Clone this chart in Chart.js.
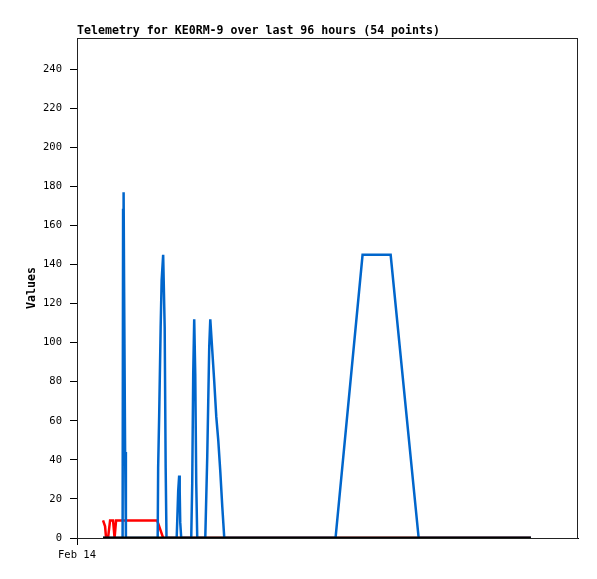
<!DOCTYPE html>
<html>
<head>
<meta charset="utf-8">
<script src="https://cdn.jsdelivr.net/npm/chart.js@4/dist/chart.umd.min.js"></script>
<style>
  body { margin: 0; background: #fff; }
  canvas { display: block; }
</style>
</head>
<body>
<canvas id="myChart" width="597" height="579"></canvas>
<script>
// hours since start of the 96h window, and values
const blueHours = [5.0, 8.74, 8.83, 8.93, 9.02, 9.22, 9.37, 15.46, 15.55, 15.74, 16.03, 16.22, 16.51, 16.80, 16.99, 17.15,
    19.10, 19.20, 19.39, 19.58, 19.68, 19.78, 19.97, 21.89, 22.08, 22.27, 22.46, 22.66, 22.85, 23.04,
    24.58, 24.96, 25.15, 25.34, 25.54, 25.92, 26.30, 26.69, 27.07, 27.46, 27.84, 28.22, 49.54, 54.72, 60.10, 65.47, 86.98];
const blueValues = [0, 0, 168, 177, 132, 44, 0, 0, 36, 62, 108, 132, 145, 108, 36, 0,
    0, 8, 24, 32, 24, 8, 0, 0, 28, 84, 112, 84, 28, 0,
    0, 42, 70, 98, 112, 96, 80, 62, 50, 34, 16, 0, 0, 145, 145, 0, 0];
const redHours = [4.99, 5.38, 5.57, 5.95, 6.34, 6.91, 7.20, 7.49, 15.36, 16.51, 86.98];
const redValues = [9, 6, 0, 0, 9, 9, 0, 9, 9, 0, 0];
const blackHours = [4.99, 86.98];
const blackValues = [0, 0];
const xTickLabels = ['Feb 14'];
const chartTitle = 'Telemetry for KE0RM-9 over last 96 hours (54 points)';

function toPoints(hours, values) {
    return hours.map((h, i) => ({ x: h, y: values[i] }));
}

const frame = {
    id: 'frame',
    afterDraw(chart) {
        const a = chart.chartArea;
        const ctx = chart.ctx;
        ctx.save();
        ctx.strokeStyle = '#222';
        ctx.lineWidth = 1;
        ctx.strokeRect(Math.round(a.left) + 0.5, Math.round(a.top) + 0.5, Math.round(a.right - a.left) - 1, Math.round(a.bottom - a.top));
        ctx.restore();
    }
};

const ctx = document.getElementById('myChart');
new Chart(ctx, {
    type: 'line',
    data: {
        datasets: [
            { label: 'black', data: toPoints(blackHours, blackValues), borderColor: '#000', borderWidth: 3 },
            { label: 'blue', data: toPoints(blueHours, blueValues), borderColor: '#0066cc', borderWidth: 2.5 },
            { label: 'red', data: toPoints(redHours, redValues), borderColor: '#ff0000', borderWidth: 2.5 }
        ]
    },
    options: {
        responsive: false,
        animation: false,
        layout: { padding: { left: 0, right: 19, top: 0, bottom: 0 } },
        elements: { point: { radius: 0 }, line: { tension: 0 } },
        plugins: {
            legend: { display: false },
            tooltip: { enabled: false },
            title: {
                display: true,
                text: chartTitle,
                align: 'start',
                fullSize: false,
                color: '#000',
                font: { family: 'DejaVu Sans Mono', size: 11.6, weight: 'bold', lineHeight: '14px' },
                padding: { top: 24, bottom: 0 }
            }
        },
        scales: {
            x: {
                type: 'linear',
                min: 0,
                max: 96,
                afterBuildTicks: (scale) => { scale.ticks = [{ value: 0 }]; },
                afterFit: (scale) => { scale.height = 41; },
                ticks: {
                    color: '#000',
                    padding: 4,
                    maxRotation: 0,
                    font: { family: 'DejaVu Sans Mono', size: 10.5 },
                    callback: (v, i) => xTickLabels[i]
                },
                grid: { display: true, drawOnChartArea: false, drawTicks: true, tickLength: 7, color: '#000' },
                border: { display: true, color: '#000' }
            },
            y: {
                min: 0,
                max: 256,
                afterBuildTicks: (scale) => { scale.ticks = scale.ticks.filter(t => t.value % 20 === 0); },
                afterFit: (scale) => { scale.width = 77; },
                ticks: {
                    stepSize: 20,
                    color: '#000',
                    padding: 8,
                    font: { family: 'DejaVu Sans Mono', size: 10.5 }
                },
                grid: { display: true, drawOnChartArea: false, drawTicks: true, tickLength: 7, color: '#000' },
                border: { display: true, color: '#000' },
                title: {
                    display: true,
                    text: 'Values',
                    color: '#000',
                    font: { family: 'DejaVu Sans Mono', size: 11.6, weight: 'bold', lineHeight: '14px' },
                    padding: { top: 25, bottom: 0 }
                }
            }
        }
    },
    plugins: [frame]
});
</script>
</body>
</html>
